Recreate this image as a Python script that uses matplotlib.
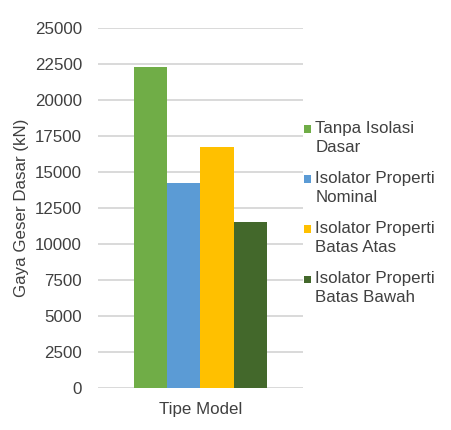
import numpy as np
import matplotlib
matplotlib.use("Agg")
import matplotlib.pyplot as plt
from matplotlib.patches import Rectangle
from matplotlib.legend_handler import HandlerPatch

# chart data
categories = ["Tipe Model"]
series_labels = [
    "Tanpa Isolasi\nDasar",
    "Isolator Properti\nNominal",
    "Isolator Properti\nBatas Atas",
    "Isolator Properti\nBatas Bawah",
]
series_values = [22270, 14250, 16710, 11570]
series_colors = ["#70AD47", "#5B9BD5", "#FFC000", "#43682B"]
y_ticks = [0, 2500, 5000, 7500, 10000, 12500, 15000, 17500, 20000, 22500, 25000]

text_color = "#404040"
grid_color = "#D9D9D9"

plt.rcParams["font.family"] = ["Liberation Sans", "DejaVu Sans"]
plt.rcParams["font.size"] = 12.2

SQ = 5.2  # legend square size in points


def top_square(legend, orig_handle, xdescent, ydescent, width, height, fontsize):
    # small square next to the first line of the label
    return Rectangle((-xdescent, -ydescent + height - SQ + 1.5), SQ, SQ)


fig = plt.figure(figsize=(4.52, 4.30), dpi=100)
ax = fig.add_axes([98 / 452, 1 - 388.3 / 430, 205 / 452, 360.3 / 430])

x = np.arange(len(categories))
bar_w = 0.161
n = len(series_values)
handles = []
for i, (val, col, lab) in enumerate(zip(series_values, series_colors, series_labels)):
    offset = (i - (n - 1) / 2) * bar_w
    h = ax.bar(x + offset, [val], width=bar_w, color=col, label=lab, zorder=3)
    handles.append(h.patches[0])

ax.set_xlim(-0.5, 0.5)
ax.set_ylim(0, 25000)
ax.set_yticks(y_ticks)
ax.set_yticklabels([str(t) for t in y_ticks])
ax.set_xticks(x)
ax.set_xticklabels(categories)
ax.yaxis.grid(True, color=grid_color, linewidth=1.4, zorder=0)
ax.set_axisbelow(True)
for side in ["top", "right", "left", "bottom"]:
    ax.spines[side].set_visible(False)
ax.tick_params(axis="y", length=0, pad=11.5, colors=text_color)
ax.tick_params(axis="x", length=0, pad=10, colors=text_color)
ax.set_ylabel("Gaya Geser Dasar (kN)", color=text_color, labelpad=4)

leg = fig.legend(
    handles=handles,
    labels=series_labels,
    loc="center left",
    bbox_to_anchor=(304 / 452, 1 - 213 / 430),
    frameon=False,
    handlelength=SQ / 12.2,
    handleheight=1.6,
    handletextpad=0.25,
    labelspacing=0.97,
    borderpad=0,
    borderaxespad=0,
    handler_map={Rectangle: HandlerPatch(patch_func=top_square)},
)
for t in leg.get_texts():
    t.set_color(text_color)
    t.set_linespacing(1.3)

fig.savefig("out.png", dpi=100)
